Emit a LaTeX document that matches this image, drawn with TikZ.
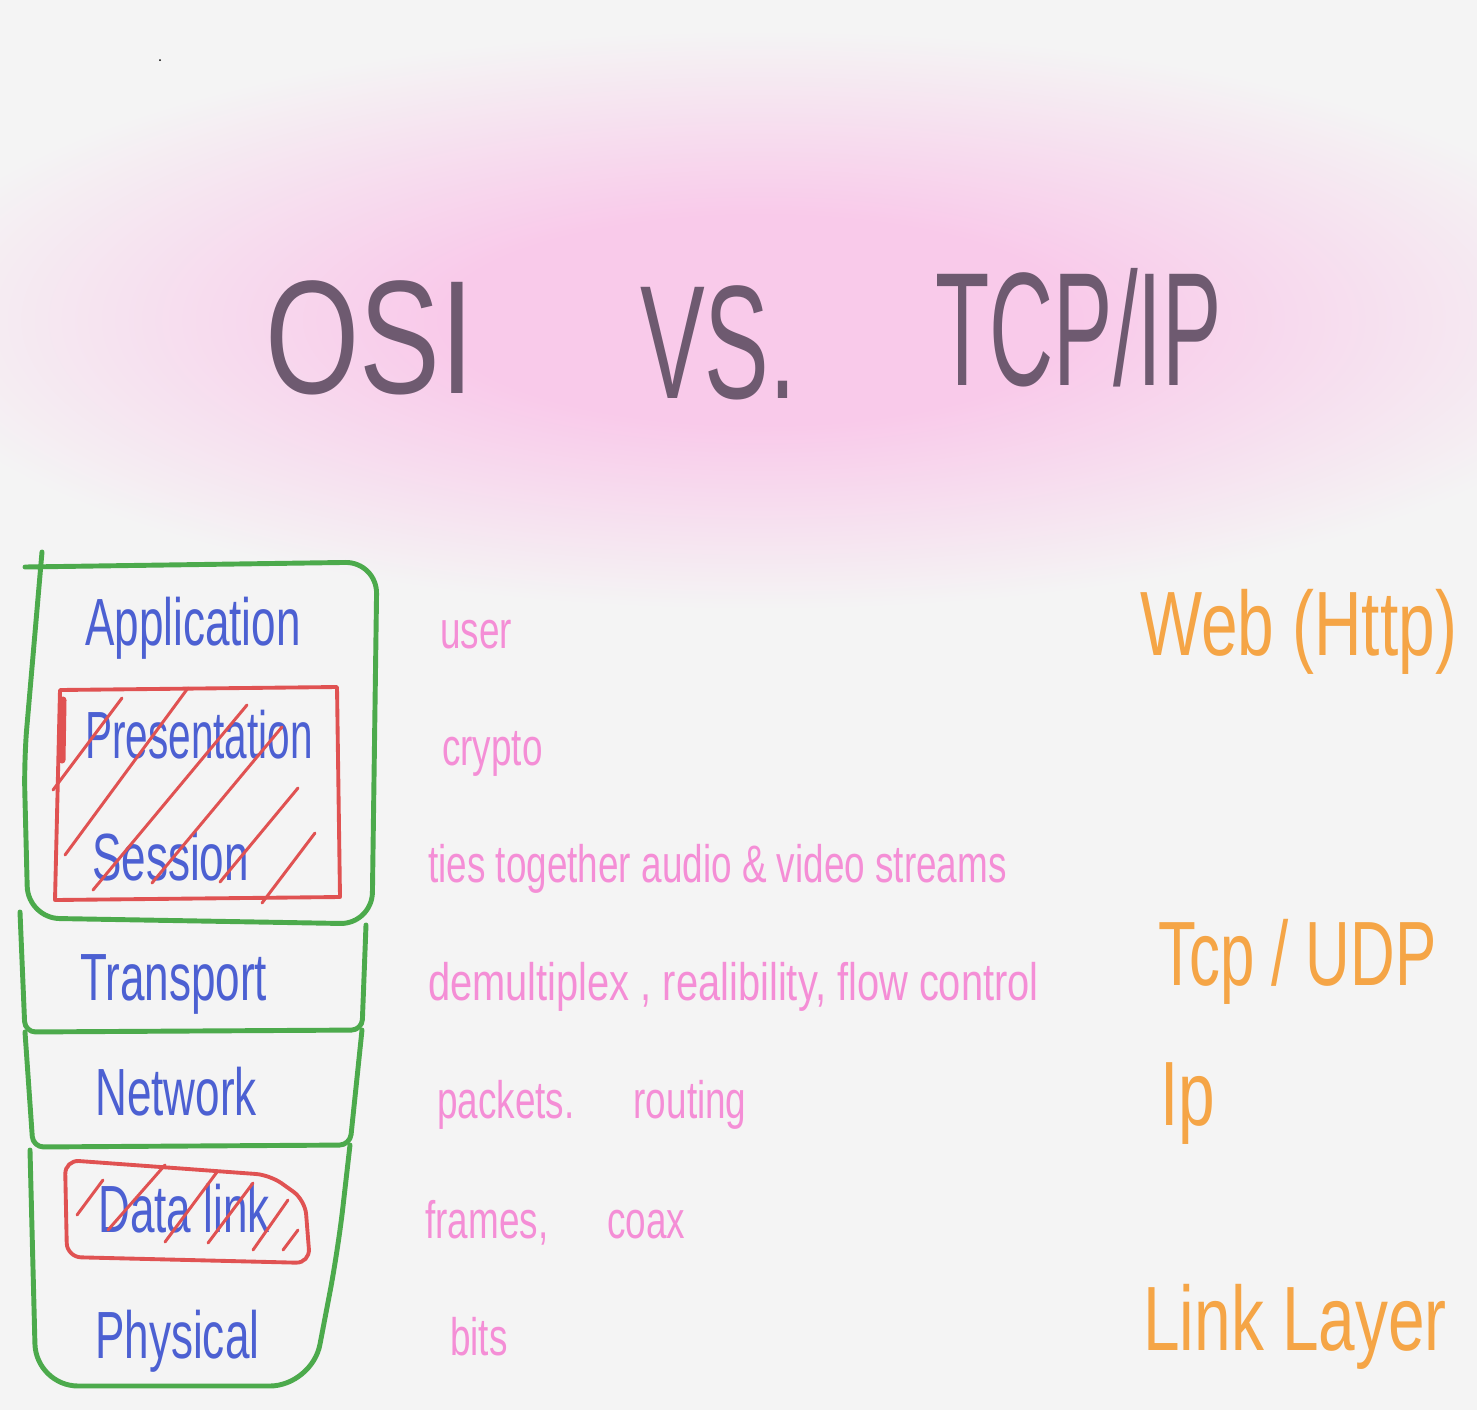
\documentclass[tikz,border=0pt]{standalone}
\usepackage{fontspec}
\setmainfont{Liberation Sans}
\usepackage{tikz}
\usetikzlibrary{positioning, calc}

\definecolor{paper}{RGB}{244,244,244}
\definecolor{blobpink}{RGB}{249,202,234}
\definecolor{titlegray}{RGB}{110,90,112}
\definecolor{osiblue}{RGB}{76,96,210}
\definecolor{notepink}{RGB}{244,142,214}
\definecolor{protoorange}{RGB}{245,165,70}
\definecolor{stackgreen}{RGB}{76,170,76}
\definecolor{crossred}{RGB}{224,82,82}

\pgfdeclareradialshading{blob}{\pgfpoint{0bp}{0bp}}{color(0bp)=(blobpink); color(9bp)=(blobpink); color(25bp)=(paper); color(50bp)=(paper)}

\tikzset{
	heading/.style={text=titlegray, font=\fontsize{92}{100}\selectfont, anchor=base west, inner sep=0pt},
	layer/.style={text=osiblue, font=\fontsize{38}{40}\selectfont, xscale=0.66, anchor=base west, inner sep=0pt},
	duty/.style={text=notepink, font=\fontsize{30}{32}\selectfont, xscale=0.7, anchor=base west, inner sep=0pt},
	proto/.style={text=protoorange, font=\fontsize{52}{54}\selectfont, xscale=0.72, anchor=base west, inner sep=0pt},
	greenline/.style={draw=stackgreen, line width=2.8pt, line cap=round, line join=round},
	redline/.style={draw=crossred, line width=2.2pt, line cap=round, line join=round},
	hatch/.style={draw=crossred, line width=1.7pt, line cap=round}
}

\begin{document}
\begin{tikzpicture}[x=0.02cm, y=-0.02cm]
			\useasboundingbox (0,0) rectangle (1477,1410);
			\fill[paper] (0,0) rectangle (1477,1410);
			\shade[shading=blob] (760,320) ellipse (880 and 290);
			\fill[black] (160,60) circle (1);

			% title
			\node[heading, xscale=0.75] (osi) at (265,393) {OSI};
			\node[heading, xscale=0.6] (vs) at (640,398) {VS.};
			\node[heading, xscale=0.55] (tcpip) at (935,385) {TCP/IP};

			% osi stack
			\draw[greenline, rounded corners=18pt] (42,552) -- (24,760) -- (28,918) -- (372,924) -- (377,562) -- (25,567);
			\draw[greenline, rounded corners=6pt] (20,912) -- (25,1032) -- (362,1030) -- (366,925);
			\draw[greenline, rounded corners=6pt] (25,1032) -- (33,1147) -- (350,1145) -- (362,1030);
			\draw[greenline, rounded corners=24pt] (30,1150) -- (36,1386) -- (312,1386) -- (338,1250) -- (350,1145);

			\draw[redline] (60,690) -- (337,687) -- (340,897) -- (55,900) -- cycle;
			\draw[redline, line width=4pt] (63,700) -- (62,760);
			\draw[redline, rounded corners=8pt] (65,1160) -- (270,1175) -- (305,1200) -- (310,1263) -- (67,1257) -- cycle;

			\node[layer] (app) at (85,645) {Application};
			\node[layer, xscale=0.92] (pres) at (85,758) {Presentation};
			\node[layer] (sess) at (92,880) {Session};
			\node[layer] (trans) at (80,1000) {Transport};
			\node[layer] (net) at (95,1115) {Network};
			\node[layer] (dlink) at (98,1232) {Data link};
			\node[layer] (phys) at (95,1358) {Physical};

			\foreach \xa/\ya/\xb/\yb in {53/790/122/698, 65/855/188/688, 93/890/247/705, 152/883/282/727, 220/882/298/788, 262/903/315/833,
				77/1215/103/1180, 108/1230/165/1165, 165/1242/217/1172, 208/1243/253/1183, 253/1250/288/1200, 283/1250/298/1230}
				\draw[hatch] (\xa,\ya) -- (\xb,\yb);

			% what each layer does
			\node[duty] (user) at (440,648) {user};
			\node[duty] (crypto) at (442,765) {crypto};
			\node[duty] (ties) at (428,882) {ties together audio \& video streams};
			\node[duty, xscale=1.08] (demux) at (428,1000) {demultiplex , realibility, flow control};
			\node[duty] (packets) at (437,1118) {packets.\hspace{1.6em}routing};
			\node[duty] (frames) at (425,1238) {frames,\hspace{1.6em}coax};
			\node[duty] (bits) at (450,1355) {bits};

			% tcp/ip
			\node[proto] (web) at (1140,655) {Web (Http)};
			\node[proto, xscale=0.94] (tcpudp) at (1158,985) {Tcp / UDP};
			\node[proto] (ip) at (1160,1125) {Ip};
			\node[proto] (linklayer) at (1143,1350) {Link Layer};
\end{tikzpicture}
\end{document}
